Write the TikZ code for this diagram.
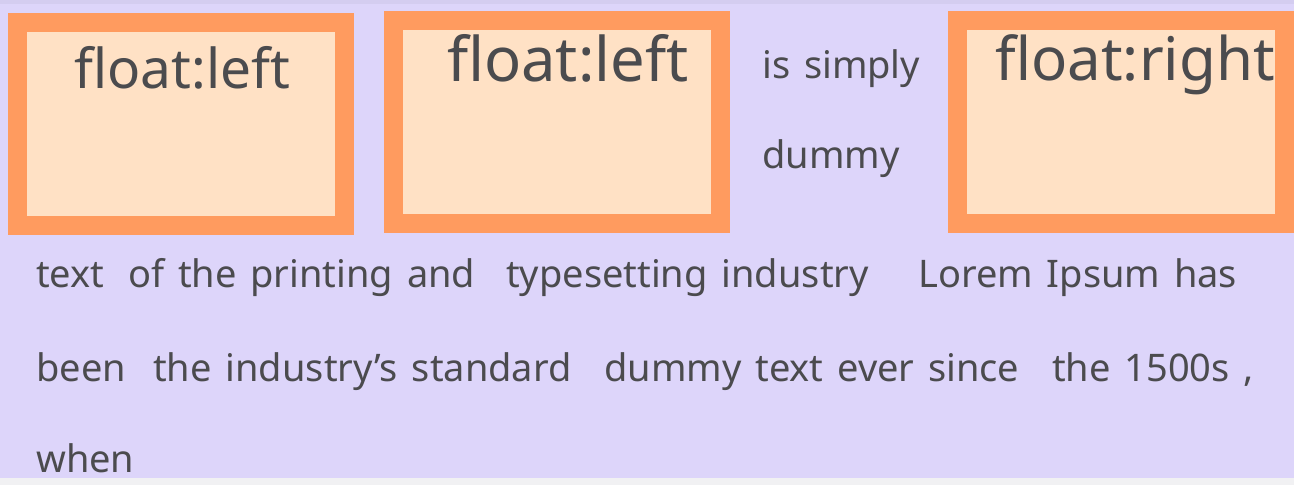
\documentclass[tikz,border=0pt]{standalone}
\usepackage{fontspec}
\setmainfont{Noto Sans}
\newfontfamily\flowfont[WordSpace=1.4]{Noto Sans}
\usepackage{xcolor}
\definecolor{pagebg}{RGB}{221,213,250}
\definecolor{topband}{RGB}{212,205,240}
\definecolor{footband}{RGB}{241,241,243}
\definecolor{floatframe}{RGB}{255,155,95}
\definecolor{floatfill}{RGB}{255,225,197}
\definecolor{inktext}{RGB}{75,75,78}
\usepackage{tikz}
\usetikzlibrary{positioning}
\tikzset{
  floatbox/.style={rectangle,
    draw=floatframe,fill=floatfill,
    line width=19pt,inner sep=0pt},
  floattitle/.style={anchor=base west,inner sep=0pt,
    text=inktext,font=\fontsize{60}{72}\selectfont},
  flowtext/.style={anchor=base west,inner sep=0pt,
    text=inktext,font=\flowfont\fontsize{38}{46}\selectfont},
}

\begin{document}
\begin{tikzpicture}[x=1pt,y=-1pt]

  % page and bands
  \fill[pagebg] (0,0) rectangle (1294,485);
  \fill[topband] (0,0) rectangle (1294,4);
  \fill[footband] (0,478) rectangle (1294,485);
  \useasboundingbox (0,0) rectangle (1294,485);

  % floated boxes
  \begin{scope}
    \clip (0,0) rectangle (1294,485);
    \node (floatA) [floatbox,minimum width=327pt,minimum height=203pt]
      at (181,124) {};
    \node (floatB) [floatbox,minimum width=327pt,minimum height=203pt]
      at (557,122) {};
    \node (floatC) [floatbox,minimum width=327pt,minimum height=203pt]
      at (1121,122) {};
  \end{scope}

  \node (titleA) [floattitle,font=\fontsize{55}{66}\selectfont]
    at (74,88) {float:left};
  \node (titleB) [floattitle,font=\fontsize{61.5}{74}\selectfont]
    at (447,81) {float:left};
  \node (titleC) [floattitle] at (995,80) {float:right};

  % text flowing between the floats
  \node (wrapA) [flowtext] at (762,78) {is simply};
  \node (wrapB) [flowtext] at (762,168) {dummy};

  % text below the floats
  \node (lineA1) [flowtext] at (36,287) {text};
  \node (lineA2) [flowtext] at (128,287) {of the printing and};
  \node (lineA3) [flowtext] at (506,287) {typesetting industry};
  \node (lineA4) [flowtext] at (918,287) {Lorem Ipsum has};

  \node (lineB1) [flowtext] at (36,381) {been};
  \node (lineB2) [flowtext] at (153,381) {the industry’s standard};
  \node (lineB3) [flowtext] at (604,381) {dummy text ever since};
  \node (lineB4) [flowtext] at (1052,381) {the 1500s ,};

  \node (lineC1) [flowtext] at (36,472) {when};

\end{tikzpicture}
\end{document}
